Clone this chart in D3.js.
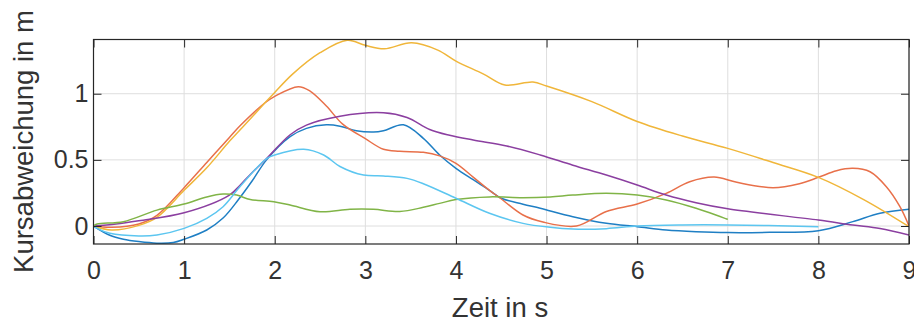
<!DOCTYPE html>
<html>
<head>
<meta charset="utf-8">
<script src="https://cdn.jsdelivr.net/npm/d3@7"></script>
<style>
  html, body { margin: 0; padding: 0; background: #fff; }
  svg { display: block; font-family: "Liberation Sans", Arial, Helvetica, sans-serif; }
</style>
</head>
<body>
<svg id="chart" width="914" height="322"></svg>
<script>
// ---- data ----
const xTicks = [0, 1, 2, 3, 4, 5, 6, 7, 8, 9];
const yTicks = [0, 0.5, 1];
const yTickLabels = ["0", "0.5", "1"];
const xLabel = "Zeit in s";
const yLabel = "Kursabweichung in m";

const blueT = [0, 0.18, 0.33, 0.5, 0.7, 0.88, 1.0, 1.25, 1.43, 1.6, 1.75, 1.91, 2.17, 2.35, 2.57, 2.72, 2.9, 3.09, 3.2, 3.42, 3.64, 3.82, 4.0, 4.19, 4.37, 4.5, 4.74, 4.93, 5.29, 5.66, 6.0, 6.32, 6.65, 7.0, 7.46, 8.0, 8.38, 8.68, 9.0];
const blueV = [0, -0.07, -0.1, -0.118, -0.13, -0.125, -0.1, -0.03, 0.06, 0.2, 0.34, 0.5, 0.675, 0.738, 0.765, 0.755, 0.72, 0.71, 0.72, 0.765, 0.663, 0.537, 0.436, 0.35, 0.27, 0.21, 0.165, 0.134, 0.07, 0.02, -0.005, -0.03, -0.043, -0.05, -0.048, -0.035, 0.033, 0.096, 0.126];

const orangeT = [0, 0.2, 0.5, 0.7, 1.0, 1.25, 1.5, 1.62, 1.89, 2.0, 2.26, 2.39, 2.57, 2.75, 3.0, 3.2, 3.38, 3.64, 3.82, 4.0, 4.19, 4.37, 4.49, 4.74, 4.96, 5.33, 5.66, 6.0, 6.32, 6.58, 6.85, 7.1, 7.5, 7.79, 8.0, 8.2, 8.38, 8.57, 8.75, 8.9, 9.0];
const orangeV = [0, -0.01, 0.015, 0.08, 0.29, 0.48, 0.67, 0.76, 0.93, 0.98, 1.053, 1.02, 0.907, 0.77, 0.66, 0.58, 0.565, 0.557, 0.53, 0.474, 0.37, 0.27, 0.21, 0.083, 0.03, 0.0, 0.11, 0.166, 0.247, 0.335, 0.37, 0.33, 0.29, 0.32, 0.368, 0.418, 0.436, 0.41, 0.297, 0.146, 0.0];

const yellowT = [0, 0.2, 0.5, 0.7, 1.0, 1.25, 1.5, 1.65, 1.89, 2.0, 2.2, 2.5, 2.8, 3.0, 3.21, 3.51, 3.8, 4.0, 4.3, 4.54, 4.85, 5.0, 5.5, 6.0, 6.5, 7.0, 7.5, 8.0, 8.5, 9.0];
const yellowV = [0, -0.03, 0.005, 0.066, 0.27, 0.44, 0.64, 0.75, 0.93, 1.01, 1.15, 1.31, 1.405, 1.366, 1.34, 1.385, 1.33, 1.247, 1.15, 1.066, 1.088, 1.058, 0.94, 0.79, 0.68, 0.587, 0.48, 0.368, 0.2, -0.005];

const purpleT = [0, 0.25, 0.5, 1.0, 1.5, 1.62, 1.73, 1.91, 2.17, 2.35, 2.72, 3.2, 3.46, 3.71, 3.93, 4.19, 4.56, 4.93, 5.29, 5.66, 6.0, 6.32, 6.65, 7.0, 8.0, 8.38, 8.68, 9.0];
const purpleV = [0, 0.015, 0.04, 0.1, 0.234, 0.31, 0.39, 0.51, 0.69, 0.763, 0.83, 0.856, 0.82, 0.73, 0.686, 0.65, 0.605, 0.537, 0.46, 0.385, 0.31, 0.234, 0.176, 0.13, 0.045, 0.008, -0.018, -0.068];

const greenT = [0, 0.04, 0.33, 0.7, 1.0, 1.25, 1.43, 1.58, 1.73, 1.99, 2.17, 2.5, 2.83, 3.09, 3.38, 3.64, 3.82, 4.0, 4.37, 4.74, 5.04, 5.29, 5.66, 6.0, 6.32, 6.65, 7.0];
const greenV = [0, 0.015, 0.033, 0.12, 0.166, 0.22, 0.242, 0.234, 0.2, 0.184, 0.159, 0.108, 0.126, 0.126, 0.11, 0.141, 0.171, 0.2, 0.22, 0.214, 0.22, 0.234, 0.247, 0.234, 0.197, 0.134, 0.05];

const lightT = [0, 0.04, 0.18, 0.5, 0.7, 1.0, 1.25, 1.43, 1.62, 1.91, 2.0, 2.32, 2.54, 2.72, 2.98, 3.2, 3.46, 3.64, 4.0, 4.37, 4.74, 5.04, 5.29, 5.66, 6.0, 6.5, 7.0, 8.0];
const lightV = [0, -0.018, -0.055, -0.075, -0.068, -0.018, 0.058, 0.146, 0.3, 0.51, 0.537, 0.58, 0.537, 0.45, 0.385, 0.378, 0.36, 0.32, 0.21, 0.096, 0.02, -0.01, -0.023, -0.02, 0, 0.008, 0.008, -0.005];

const seriesColors = ["#1f7fc4", "#e8704a", "#f0b63a", "#8b3fa0", "#80b447", "#5cc6f0"];
const seriesList = [
  [blueT, blueV], [orangeT, orangeV], [yellowT, yellowV],
  [purpleT, purpleV], [greenT, greenV], [lightT, lightV]
];

// ---- layout ----
const svg = d3.select("#chart");
const L = 93.5, R = 909, T = 39.5, B = 244;
const x = d3.scaleLinear().domain([0, 9]).range([L, R]);
const y = d3.scaleLinear().domain([-0.136, 1.41]).range([B, T]);
const axisColor = "#262626";
const textColor = "#333";

// grid
const grid = svg.append("g");
grid.selectAll("line.gx").data(xTicks).join("line")
  .attr("x1", d => x(d)).attr("x2", d => x(d)).attr("y1", T).attr("y2", B)
  .attr("stroke", "#dedede").attr("stroke-width", 1);
grid.selectAll("line.gy").data(yTicks).join("line")
  .attr("x1", L).attr("x2", R).attr("y1", d => y(d)).attr("y2", d => y(d))
  .attr("stroke", "#dedede").attr("stroke-width", 1);

// lines
svg.append("clipPath").attr("id", "clip").append("rect")
  .attr("x", L).attr("y", T).attr("width", R - L).attr("height", B - T);
const line = d3.line().x(d => x(d[0])).y(d => y(d[1])).curve(d3.curveCatmullRom.alpha(0.5));
const lg = svg.append("g").attr("clip-path", "url(#clip)");
seriesList.forEach((s, i) => {
  const pts = s[0].map((t, k) => [t, s[1][k]]);
  lg.append("path").datum(pts).attr("d", line)
    .attr("fill", "none").attr("stroke", seriesColors[i])
    .attr("stroke-width", 1.5).attr("stroke-linejoin", "round");
});

// axes
const tickLen = 8;
const xb = svg.append("g").attr("transform", `translate(0,${B})`)
  .call(d3.axisBottom(x).tickValues(xTicks).tickSizeInner(-tickLen).tickSizeOuter(0).tickPadding(17).tickFormat(d3.format("d")));
const xt = svg.append("g").attr("transform", `translate(0,${T})`)
  .call(d3.axisTop(x).tickValues(xTicks).tickSizeInner(-tickLen).tickSizeOuter(0).tickFormat(""));
const yl = svg.append("g").attr("transform", `translate(${L},0)`)
  .call(d3.axisLeft(y).tickValues(yTicks).tickSizeInner(-tickLen).tickSizeOuter(0).tickPadding(5).tickFormat((d, i) => yTickLabels[i]));
const yr = svg.append("g").attr("transform", `translate(${R},0)`)
  .call(d3.axisRight(y).tickValues(yTicks).tickSizeInner(-tickLen).tickSizeOuter(0).tickFormat(""));

[xb, xt, yl, yr].forEach(g => {
  g.select(".domain").remove();
  g.selectAll(".tick line").attr("stroke", axisColor).attr("stroke-width", 1);
  g.selectAll(".tick text").attr("fill", textColor).attr("font-size", 25)
    .attr("font-family", "'Liberation Sans', Arial, sans-serif");
});

// box
svg.append("rect").attr("x", L).attr("y", T).attr("width", R - L).attr("height", B - T)
  .attr("fill", "none").attr("stroke", axisColor).attr("stroke-width", 1.2);

// labels
svg.append("text").attr("x", 500).attr("y", 317).attr("text-anchor", "middle")
  .attr("font-size", 27.5).attr("fill", textColor).text(xLabel);
svg.append("text").attr("transform", "translate(33,141.5) rotate(-90)").attr("text-anchor", "middle")
  .attr("font-size", 27.5).attr("fill", textColor).text(yLabel);
</script>
</body>
</html>
